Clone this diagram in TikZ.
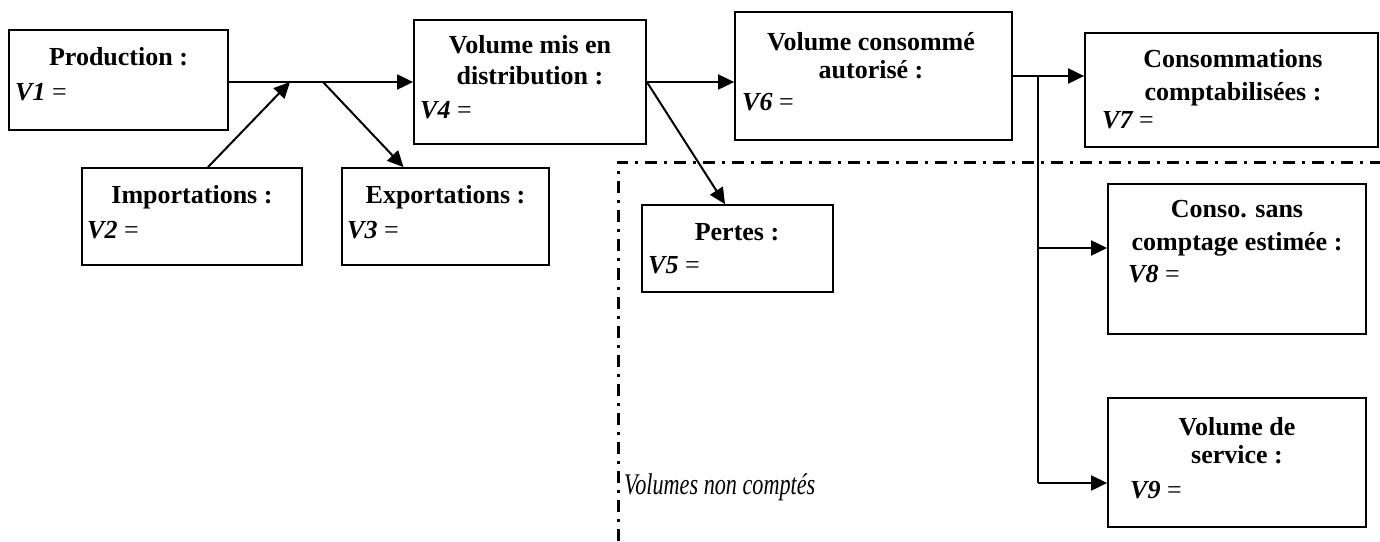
\documentclass[tikz,border=0pt]{standalone}
\usepackage{fontspec}
\usepackage{graphicx}
\setmainfont{Liberation Serif}
\usetikzlibrary{arrows.meta}
\newcommand\mybox[5]{\node[blk,minimum width=#4pt,minimum height=#5pt] (#1) at (#2,#3) {};}
\newcommand\myeq{{\mdseries\upshape =}}
\begin{document}
\begin{tikzpicture}[x=1pt,y=-1pt,
 blk/.style={draw,line width=1.8pt,inner sep=0pt},
 ttl/.style={font=\fontsize{26}{30}\selectfont\bfseries,anchor=base,inner sep=0pt},
 val/.style={font=\fontsize{26}{30}\selectfont\bfseries\itshape,anchor=base west,inner sep=0pt},
 arr/.style={line width=2pt,-{Triangle[length=16pt,width=15pt]}},
 ln/.style={line width=2pt},
 dd/.style={line width=3pt,dash pattern=on 12pt off 7pt on 3pt off 7pt}]
\useasboundingbox (0,0) rectangle (1380,541);

% boxes
\mybox{P}{118.5}{80}{219}{100}
\mybox{Imp}{192}{216.5}{220}{97}
\mybox{Exp}{445.5}{216.5}{207}{97}
\mybox{Vfour}{530}{82}{232}{124}
\mybox{Vsix}{873.5}{76}{277}{128}
\mybox{Vseven}{1231.5}{90}{293}{114}
\mybox{Vfive}{737.5}{248.5}{191}{87}
\mybox{Veight}{1237}{259}{258}{150}
\mybox{Vnine}{1237}{462.5}{258}{129}

% texts
\node[ttl] (tP) at (118.5,65) {Production :};
\node[val] (v1) at (15,100) {V1 \myeq};
\node[ttl] (tI) at (192,203) {Importations :};
\node[val] (v2) at (87,238) {V2 \myeq};
\node[ttl] (tE) at (445.5,203) {Exportations :};
\node[val] (v3) at (347,238) {V3 \myeq};
\node[ttl] (t4a) at (530,53) {Volume mis en};
\node[ttl] (t4b) at (530,84) {distribution :};
\node[val] (v4) at (420,118) {V4 \myeq};
\node[ttl] (t6a) at (871,50) {Volume consommé};
\node[ttl] (t6b) at (871,78) {autorisé :};
\node[val] (v6) at (742,110) {V6 \myeq};
\node[ttl] (t7a) at (1233,67) {Consommations};
\node[ttl] (t7b) at (1233,100) {comptabilisées :};
\node[val] (v7) at (1102,128) {V7 \myeq};
\node[ttl] (t5) at (737,240) {Pertes :};
\node[val] (v5) at (648,273) {V5 \myeq};
\node[ttl] (t8a) at (1237,217) {Conso. sans};
\node[ttl] (t8b) at (1237,250) {comptage estimée :};
\node[val] (v8) at (1128,282) {V8 \myeq};
\node[ttl] (t9a) at (1237,435) {Volume de};
\node[ttl] (t9b) at (1237,463) {service :};
\node[val] (v9) at (1130,498) {V9 \myeq};
\node[anchor=base west,inner sep=0pt,font=\fontsize{30}{34}\selectfont\itshape] (nc) at (624,494) {\scalebox{0.74}[1]{Volumes non comptés}};

% dash-dot boundary
\draw[dd] (618,541) -- (618,162) -- (1380,162);

% connectors
\coordinate (j1) at (290,82);
\coordinate (j2) at (323,82);
\coordinate (j3) at (1038,76);
\coordinate (j4) at (1038,248);
\coordinate (j5) at (1038,483);
\draw[arr] (P.east |- Vfour.west) -- (Vfour.west);
\draw[arr] ([xshift=16pt]Imp.north) -- (j1);
\draw[arr] (j2) -- ([xshift=-42pt]Exp.north);
\draw[arr] (Vfour.east) -- (Vfour.east -| Vsix.west);
\draw[arr] (Vfour.east) -- ([xshift=-12.5pt]Vfive.north);
\draw[arr] (Vsix.east) -- (Vsix.east -| Vseven.west);
\draw[ln] (j3) -- (j5);
\draw[arr] (j4) -- (j4 -| Veight.west);
\draw[arr] (j5) -- (j5 -| Vnine.west);
\end{tikzpicture}
\end{document}
